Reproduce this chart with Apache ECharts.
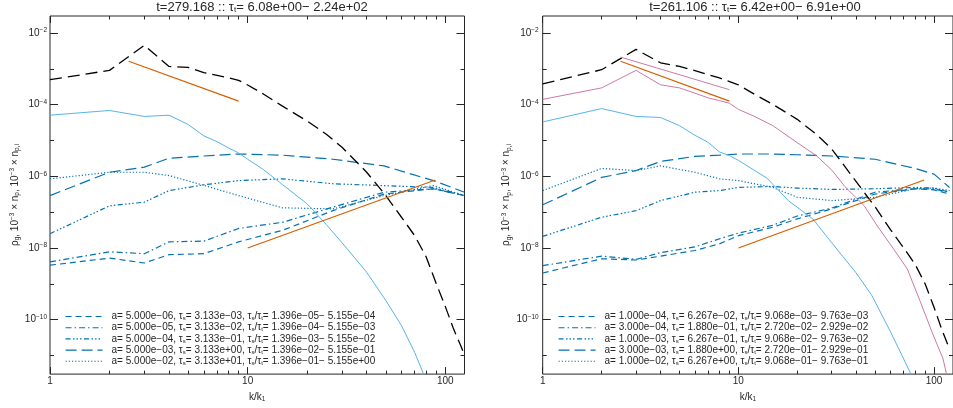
<!DOCTYPE html>
<html>
<head>
<meta charset="utf-8">
<script src="https://cdn.jsdelivr.net/npm/echarts@6/dist/echarts.min.js"></script>
<style>
  html, body { margin: 0; padding: 0; background: #fff; }
  #chart { width: 953px; height: 408px; }
</style>
</head>
<body>
<div id="chart"></div>
<script>
// ---------- axes ----------
const kMin = 1, kMaxL = 125, kMaxR = 125;
const yMin = 3e-12, yMax = 3e-2;
const xTickMajor = [1, 10, 100];
const xTickMinor = [2, 3, 4, 5, 6, 7, 8, 9, 20, 30, 40, 50, 60, 70, 80, 90];
const yTickLabeled = [1e-10, 1e-8, 1e-6, 1e-4, 1e-2];
const yTickPlain = [1e-11, 1e-9, 1e-7, 1e-5, 1e-3];

// ---------- left panel ----------
const titleL = ['279.168', '6.08e+00', '2.24e+02'];
const kGasL = [1, 2, 3, 4, 5, 6, 7, 8, 9, 10, 12, 15, 20, 25, 30, 40, 50, 60, 70, 80, 90, 100, 110, 120, 125];
const gasL = [5.0e-4, 9.1e-4, 4.57e-3, 1.17e-3, 1.10e-3, 7.9e-4, 6.6e-4, 5.6e-4, 4.8e-4, 3.55e-4, 2.0e-4, 9.1e-5,
  3.5e-5, 1.5e-5, 6.5e-6, 1.3e-6, 2.9e-7, 7.2e-8, 2.2e-8, 5.6e-9, 1.0e-9, 2.3e-10, 5.5e-11, 1.8e-11, 1.0e-11];
const kDustL = [1, 2, 3, 4, 5, 6, 7, 8, 9, 10, 12, 15, 20, 25, 30, 40, 50, 60, 70, 80];
const dustL = [5.1e-5, 6.9e-5, 4.7e-5, 5.1e-5, 2.8e-5, 1.35e-5, 9.3e-6, 6.2e-6, 4.5e-6, 3.0e-6, 1.55e-6, 5.9e-7,
  1.7e-7, 4.5e-8, 1.4e-8, 2.1e-9, 3.4e-10, 6.8e-11, 1.2e-11, 2.0e-12];
const kAL = [1, 2, 3, 4, 6, 9, 15, 27, 49, 87, 125];
const aL1 = [3.3e-9, 5.2e-9, 3.8e-9, 6.5e-9, 6.9e-9, 1.48e-8, 3.1e-8, 1.1e-7, 3.2e-7, 4.5e-7, 2.9e-7];
const aL2 = [4.1e-9, 7.8e-9, 6.9e-9, 1.48e-8, 1.55e-8, 3.5e-8, 5.2e-8, 1.38e-7, 3.6e-7, 4.5e-7, 2.9e-7];
const aL3 = [2.5e-8, 1.5e-7, 1.9e-7, 4.0e-7, 5.8e-7, 7.6e-7, 8.5e-7, 6.2e-7, 5.5e-7, 4.9e-7, 2.9e-7];
const aL4 = [2.9e-7, 1.3e-6, 1.8e-6, 3.2e-6, 3.7e-6, 4.2e-6, 3.9e-6, 3.0e-6, 1.95e-6, 7.6e-7, 3.6e-7];
const aL5 = [8.5e-7, 1.3e-6, 1.3e-6, 1.05e-6, 5.6e-7, 2.9e-7, 1.32e-7, 1.23e-7, 2.9e-7, 5.5e-7, 2.9e-7];
const legAL = ['5.000e−06', '5.000e−05', '5.000e−04', '5.000e−03', '5.000e−02'];
const legTsL = ['3.133e−03', '3.133e−02', '3.133e−01', '3.133e+00', '3.133e+01'];
const legLoL = ['1.396e−05', '1.396e−04', '1.396e−03', '1.396e−02', '1.396e−01'];
const legHiL = ['5.155e−04', '5.155e−03', '5.155e−02', '5.155e−01', '5.155e+00'];

// ---------- right panel ----------
const titleR = ['261.106', '6.42e+00', '6.91e+00'];
const kGasR = [1, 2, 3, 4, 5, 6, 8, 10, 12, 15, 20, 25, 30, 40, 50, 60, 70, 80, 90, 100, 110, 120];
const gasR = [3.8e-4, 9.5e-4, 3.5e-3, 1.48e-3, 1.17e-3, 8.9e-4, 5.6e-4, 3.6e-4, 2.0e-4, 1.02e-4, 3.9e-5, 1.5e-5,
  5.8e-6, 7.1e-7, 1.4e-7, 3.2e-8, 1.0e-8, 3.5e-9, 1.0e-9, 2.2e-10, 5.0e-11, 1.5e-11];
const kDustR = [1, 2, 3, 4, 5, 6, 7, 8, 9, 10, 12, 14, 18, 24, 30, 40, 48, 60, 75, 80];
const dustR = [3.3e-5, 7.8e-5, 4.7e-5, 4.4e-5, 2.6e-5, 1.4e-5, 8.9e-6, 4.8e-6, 3.8e-6, 2.8e-6, 1.5e-6, 8.9e-7,
  2.1e-7, 6.5e-8, 1.4e-8, 2.0e-9, 4.8e-10, 4.5e-11, 3.6e-12, 1.6e-12];
const kPinkR = [1, 2, 3, 4, 5, 6, 7, 8, 9, 10, 12, 15, 20, 25, 30, 35, 44, 51, 62, 73, 85, 99, 111, 116];
const pinkR = [1.41e-4, 2.95e-4, 9.1e-4, 3.6e-4, 2.95e-4, 2.1e-4, 1.55e-4, 1.3e-4, 1.1e-4, 7.4e-5, 4.8e-5, 2.6e-5,
  8.7e-6, 3.8e-6, 1.5e-6, 5.2e-7, 1.5e-7, 4.3e-8, 9.5e-9, 2.6e-9, 3.2e-10, 3.7e-11, 8.3e-12, 2.9e-12];
const kAR = [1, 2, 3, 4, 6, 8, 10, 15, 20, 30, 50, 80, 100, 120];
const aR1 = [2.0e-9, 5.0e-9, 4.6e-9, 5.9e-9, 8.5e-9, 1.3e-8, 2.2e-8, 3.8e-8, 6.5e-8, 1.23e-7, 3.2e-7, 4.5e-7, 4.2e-7, 3.2e-7];
const aR2 = [3.2e-9, 5.9e-9, 4.8e-9, 7.4e-9, 1.07e-8, 1.8e-8, 2.6e-8, 4.3e-8, 7.8e-8, 1.3e-7, 3.6e-7, 4.5e-7, 4.4e-7, 3.6e-7];
const aR3 = [2.1e-8, 7.2e-8, 1.1e-7, 2.1e-7, 3.6e-7, 4.0e-7, 4.9e-7, 5.2e-7, 4.7e-7, 4.3e-7, 4.5e-7, 4.9e-7, 4.7e-7, 3.6e-7];
const aR4 = [1.6e-7, 9.3e-7, 1.45e-6, 2.6e-6, 3.6e-6, 3.9e-6, 4.2e-6, 4.2e-6, 4.0e-6, 3.7e-6, 3.0e-6, 1.66e-6, 1.15e-6, 4.9e-7];
const aR5 = [4.0e-7, 1.66e-6, 1.45e-6, 1.95e-6, 1.3e-6, 8.5e-7, 7.6e-7, 4.9e-7, 2.6e-7, 2.1e-7, 2.6e-7, 4.5e-7, 4.7e-7, 4.0e-7];
const legAR = ['1.000e−04', '3.000e−04', '1.000e−03', '3.000e−03', '1.000e−02'];
const legTsR = ['6.267e−02', '1.880e−01', '6.267e−01', '1.880e+00', '6.267e+00'];
const legLoR = ['9.068e−03', '2.720e−02', '9.068e−02', '2.720e−01', '9.068e−01'];
const legHiR = ['9.763e−03', '2.929e−02', '9.763e−02', '2.929e−01', '9.763e−01'];

// ---------- power-law guide segments (both panels) ----------
const guideSteepK = [2.5, 9], guideSteepV = [1.63e-3, 1.26e-4];   // k^-2
const guideRiseK = [10, 89], guideRiseV = [1.0e-8, 7.9e-7];       // k^2
const guideKolK = [2.5, 9], guideKolV = [2.14e-3, 2.63e-4];       // k^-5/3

// ---------- styling ----------
const FONT = '"Liberation Sans", Arial, Helvetica, sans-serif';
const INK = '#262626';
const BLUE = '#0072B2', SKY = '#56B4E9', ORANGE = '#D55E00', PINK = '#CC79A7';
const dashTypes = [[6, 4], [6, 3, 1.5, 3], [5, 2.5, 1.5, 2, 1.5, 2, 1.5, 2.5], [11, 5], [1.2, 2]];

const richText = {
  n: { fontSize: 10, fontFamily: FONT, color: INK, lineHeight: 11 },
  b: { fontSize: 10, fontFamily: FONT, color: INK, lineHeight: 11 },
  s: { fontSize: 6.5, fontFamily: FONT, color: INK, lineHeight: 7, padding: [0, 0, 5, 0] },
  sb: { fontSize: 6.5, fontFamily: FONT, color: INK, lineHeight: 7, padding: [5, 0, 0, 0] }
};
const legendRich = {
  g: { width: 4 },
  n: { fontSize: 10, fontFamily: FONT, color: INK, lineHeight: 10 },
  sb: { fontSize: 6, fontFamily: FONT, color: INK, lineHeight: 6, padding: [4, 0, 0, 0] }
};

const pairs = (k, v) => k.map((x, i) => [x, v[i]]);
const pow10Label = v => {
  const e = Math.round(Math.log10(v));
  return '{b|10}{s|' + (e < 0 ? '−' : '') + Math.abs(e) + '}';
};

function makeXAxes(gridIndex, kMax) {
  const base = {
    type: 'log', logBase: 10, min: kMin, max: kMax, gridIndex,
    splitLine: { show: false }, axisLine: { show: false, onZero: false }
  };
  const tick = (len, vals) => ({ show: true, inside: true, length: len, customValues: vals, lineStyle: { color: INK, width: 1 } });
  return [
    Object.assign({}, base, {
      position: 'bottom', axisTick: tick(7, xTickMajor),
      axisLabel: { customValues: xTickMajor, formatter: v => String(Math.round(v)), margin: 2, fontSize: 10, fontFamily: FONT, color: INK },
      name: '{n|k/k}{sb|1}', nameLocation: 'middle', nameGap: 13,
      nameTextStyle: { rich: richText }
    }),
    Object.assign({}, base, { position: 'bottom', axisTick: tick(3.5, xTickMinor), axisLabel: { show: false } }),
    Object.assign({}, base, { position: 'top', axisTick: tick(7, xTickMajor), axisLabel: { show: false } }),
    Object.assign({}, base, { position: 'top', axisTick: tick(3.5, xTickMinor), axisLabel: { show: false } })
  ];
}

function makeYAxes(gridIndex, nameGap, labelMargin) {
  const base = {
    type: 'log', logBase: 10, min: yMin, max: yMax, gridIndex,
    splitLine: { show: false }, axisLine: { show: false, onZero: false }
  };
  const tick = (len, vals) => ({ show: true, inside: true, length: len, customValues: vals, lineStyle: { color: INK, width: 1 } });
  return [
    Object.assign({}, base, {
      position: 'left', axisTick: tick(8, yTickLabeled),
      axisLabel: { customValues: yTickLabeled, formatter: pow10Label, margin: labelMargin, rich: richText },
      name: '{n|ρ}{sb|g}{n|, 10}{s|−3}{n| × n}{sb|p}{n|, 10}{s|−3}{n| × n}{sb|p,i}',
      nameLocation: 'middle', nameRotate: 90, nameGap: nameGap,
      nameTextStyle: { rich: richText }
    }),
    Object.assign({}, base, { position: 'left', axisTick: tick(4, yTickPlain), axisLabel: { show: false } }),
    Object.assign({}, base, { position: 'right', axisTick: tick(8, yTickLabeled), axisLabel: { show: false } }),
    Object.assign({}, base, { position: 'right', axisTick: tick(4, yTickPlain), axisLabel: { show: false } })
  ];
}

function legendName(a, ts, lo, hi) {
  return 'a= ' + a + ', τs= ' + ts + ', τs/τt= ' + lo + '− ' + hi;
}
const legendRichMap = {};
function registerLegend(a, ts, lo, hi) {
  const name = legendName(a, ts, lo, hi);
  legendRichMap[name] = '{g|}{n|a= ' + a + ', τ}{sb|s}{n|= ' + ts + ', τ}{sb|s}{n|/τ}{sb|t}{n|= ' + lo + '− ' + hi + '}';
  return name;
}

function line(name, data, xi, color, width, dash, z) {
  return {
    type: 'line', name, data, xAxisIndex: xi, yAxisIndex: xi,
    symbol: 'none', smooth: false, clip: true, silent: true, z: z || 2,
    lineStyle: { color, width, type: dash || 'solid' },
    itemStyle: { color }
  };
}

function panelSeries(xi, gasK, gasV, dustK, dustV, aK, aSets, legA, legTs, legLo, legHi) {
  const out = [];
  const names = [];
  aSets.forEach((vals, i) => {
    const nm = registerLegend(legA[i], legTs[i], legLo[i], legHi[i]);
    names.push(nm);
    out.push(line(nm, pairs(aK, vals), xi, BLUE, 1.2, dashTypes[i], 2));
  });
  out.push(line('gas' + xi, pairs(gasK, gasV), xi, '#000', 1.3, [12, 6], 3));
  out.push(line('dust' + xi, pairs(dustK, dustV), xi, SKY, 1, 'solid', 3));
  out.push(line('steep' + xi, pairs(guideSteepK, guideSteepV), xi, ORANGE, 1.2, 'solid', 4));
  out.push(line('rise' + xi, pairs(guideRiseK, guideRiseV), xi, ORANGE, 1.2, 'solid', 4));
  return { series: out, names };
}

const left = panelSeries(0, kGasL, gasL, kDustL, dustL, kAL, [aL1, aL2, aL3, aL4, aL5], legAL, legTsL, legLoL, legHiL);
const right = panelSeries(4, kGasR, gasR, kDustR, dustR, kAR, [aR1, aR2, aR3, aR4, aR5], legAR, legTsR, legLoR, legHiR);
right.series.push(line('pinkCurve', pairs(kPinkR, pinkR), 4, PINK, 1, 'solid', 3));
right.series.push(line('kolmogorov', pairs(guideKolK, guideKolV), 4, PINK, 1, 'solid', 4));

function legendBlock(names, leftPx) {
  return {
    data: names, orient: 'vertical', left: leftPx, top: 311.5, padding: 0,
    itemWidth: 37, itemHeight: 9, itemGap: 1.2, selectedMode: false,
    itemStyle: { opacity: 0 },
    lineStyle: { width: 1.1 },
    textStyle: { rich: legendRich, fontSize: 10, fontFamily: FONT, color: INK, lineHeight: 10 },
    formatter: n => legendRichMap[n]
  };
}

function titleText(p) {
  return '{n|t=' + p[0] + ' :: τ}{sb|t}{n|= ' + p[1] + '− ' + p[2] + '}';
}
const titleRich = {
  n: { fontSize: 13, fontFamily: FONT, fill: INK, color: INK, lineHeight: 14 },
  sb: { fontSize: 8, fontFamily: FONT, fill: INK, color: INK, lineHeight: 8, padding: [6, 0, 0, 0] }
};

const chart = echarts.init(document.getElementById('chart'), null, { renderer: 'canvas' });
chart.setOption({
  animation: false,
  backgroundColor: '#fff',
  grid: [
    { left: 50, top: 16, right: 488.5, bottom: 32, show: true, borderColor: INK, borderWidth: 1, backgroundColor: 'transparent' },
    { left: 542.7, top: 16, right: -3.5, bottom: 32, show: true, borderColor: INK, borderWidth: 1, backgroundColor: 'transparent' }
  ],
  xAxis: makeXAxes(0, kMaxL).concat(makeXAxes(1, kMaxR)),
  yAxis: makeYAxes(0, 28, 3).concat(makeYAxes(1, 22, 4)),
  legend: [legendBlock(left.names, 65), legendBlock(right.names, 558)],
  graphic: [
    { type: 'text', x: 262, y: 0, style: { text: titleText(titleL), rich: titleRich, align: 'center', verticalAlign: 'top' } },
    { type: 'text', x: 755, y: 0, style: { text: titleText(titleR), rich: titleRich, align: 'center', verticalAlign: 'top' } }
  ],
  series: left.series.concat(right.series)
});
</script>
</body>
</html>
